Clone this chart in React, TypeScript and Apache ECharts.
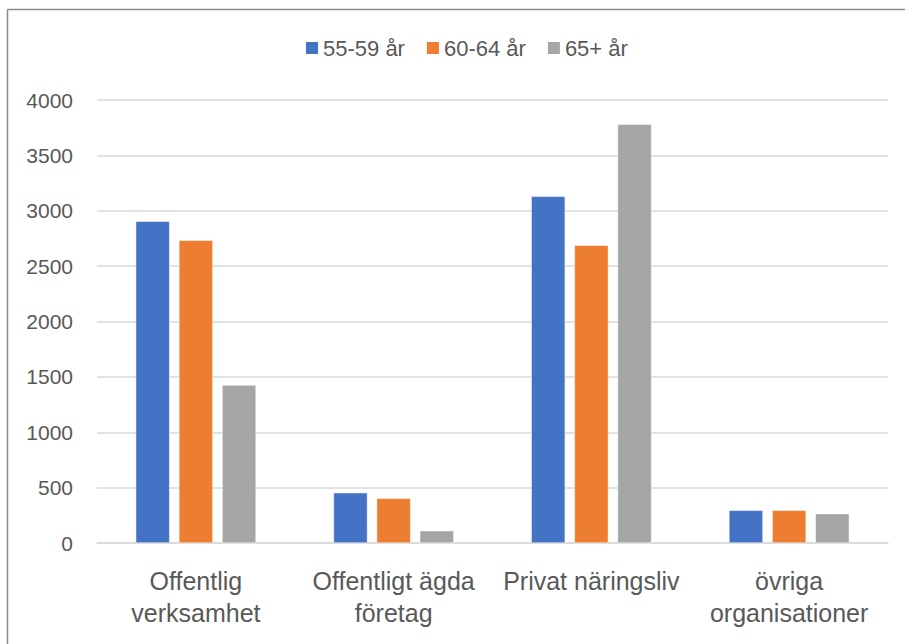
import React, { useEffect, useRef } from "react";
import * as echarts from "echarts";

const categories = [
  "Offentlig\nverksamhet",
  "Offentligt ägda\nföretag",
  "Privat näringsliv",
  "övriga\norganisationer",
];
const seriesNames = ["55-59 år", "60-64 år", "65+ år"];
const values5559 = [2905, 454, 3130, 295];
const values6064 = [2733, 403, 2688, 295];
const values65 = [1427, 111, 3781, 265];
const colors = ["#4472C4", "#ED7D31", "#A5A5A5"];
const yMin = 0;
const yMax = 4000;
const yInterval = 500;

export default function App() {
  const ref = useRef<HTMLDivElement>(null);
  useEffect(() => {
    if (!ref.current) return;
    const chart = echarts.init(ref.current, undefined, { renderer: "svg" });
    const font = "'Liberation Sans', Arial, sans-serif";
    const data = [values5559, values6064, values65];
    chart.setOption({
      animation: false,
      backgroundColor: "#ffffff",
      textStyle: { fontFamily: font },
      color: colors,
      graphic: [
        {
          type: "line",
          shape: { x1: 7.5, y1: 9.5, x2: 905, y2: 9.5 },
          style: { stroke: "#8c8c8c", lineWidth: 1.5 },
        },
        {
          type: "line",
          shape: { x1: 7.5, y1: 9.5, x2: 7.5, y2: 644 },
          style: { stroke: "#8c8c8c", lineWidth: 1.5 },
        },
      ],
      legend: {
        top: 32,
        left: 299,
        padding: [5, 5],
        itemWidth: 14,
        itemHeight: 14,
        itemGap: 20,
        icon: "rect",
        textStyle: { fontSize: 22, color: "#595959", fontFamily: font, padding: [0, 0, 0, -1] },
        data: seriesNames,
      },
      grid: { left: 97, right: 17, top: 100, bottom: 101, containLabel: false },
      xAxis: {
        type: "category",
        data: categories,
        axisLine: { lineStyle: { color: "#D9D9D9", width: 1.5 } },
        axisTick: { show: false },
        axisLabel: {
          fontSize: 25,
          lineHeight: 32,
          color: "#595959",
          margin: 22,
          interval: 0,
          fontFamily: font,
        },
      },
      yAxis: {
        type: "value",
        min: yMin,
        max: yMax,
        interval: yInterval,
        axisLine: { show: false },
        axisTick: { show: false },
        splitLine: { lineStyle: { color: "#D9D9D9", width: 1.5 } },
        axisLabel: {
          fontSize: 21,
          color: "#595959",
          margin: 24,
          fontFamily: font,
          formatter: (v: number) => String(v),
        },
      },
      series: seriesNames.map((name, i) => ({
        name,
        type: "bar",
        data: data[i],
        barWidth: 34,
        barGap: "27%",
        itemStyle: { color: colors[i], borderColor: "#ffffff", borderWidth: 0.5 },
      })),
    });
    return () => chart.dispose();
  }, []);
  return (
    <div
      ref={ref}
      style={{ position: "absolute", left: 0, top: 0, width: 905, height: 644 }}
    />
  );
}
